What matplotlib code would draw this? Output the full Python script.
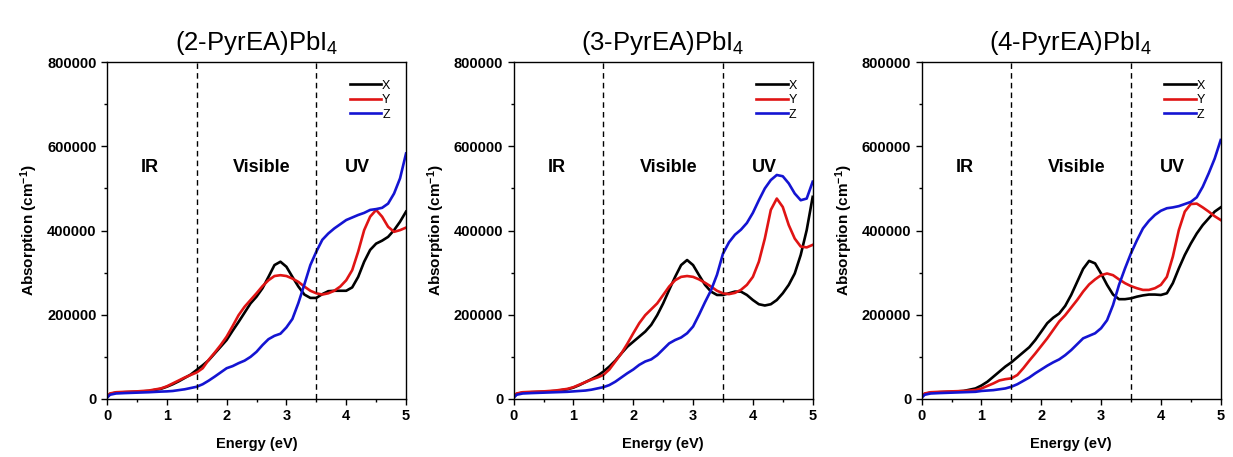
import matplotlib
matplotlib.use("Agg")
import matplotlib.pyplot as plt
from matplotlib.ticker import MultipleLocator

plt.rcParams['font.family'] = ['Liberation Sans', 'DejaVu Sans']
plt.rcParams['mathtext.fontset'] = 'custom'
plt.rcParams['mathtext.rm'] = 'Liberation Sans'
plt.rcParams['mathtext.bf'] = 'Liberation Sans:bold'
plt.rcParams['mathtext.default'] = 'regular'

# photon energy grid (eV) shared by all spectra
energy = [0, 0.05, 0.15, 0.3, 0.5, 0.7, 0.9, 1.0, 1.1, 1.2, 1.3, 1.4,
          1.5, 1.6, 1.7, 1.8, 1.9, 2.0, 2.1, 2.2, 2.3, 2.4, 2.5, 2.6,
          2.7, 2.8, 2.9, 3.0, 3.1, 3.2, 3.3, 3.4, 3.5, 3.6, 3.7, 3.8,
          3.9, 4.0, 4.1, 4.2, 4.3, 4.4, 4.5, 4.6, 4.7, 4.8, 4.9, 5.0]

titles = ['(2-PyrEA)PbI$_4$', '(3-PyrEA)PbI$_4$', '(4-PyrEA)PbI$_4$']

# absorption coefficients (cm^-1), X / Y / Z polarisation
pyr2_x = [5000, 12000, 15000, 16000, 17000, 19000, 24000, 29000, 35000, 42000, 50000, 58000,
          69000, 80000, 92000, 108000, 124000, 140000, 162000, 183000, 205000, 227000, 243000, 263000,
          290000, 318000, 326000, 314000, 290000, 267000, 248000, 240000, 240000, 249000, 256000, 257000,
          257000, 257000, 265000, 290000, 326000, 354000, 369000, 376000, 385000, 401000, 421000, 445000]
pyr2_y = [5000, 13000, 16000, 17000, 18000, 20000, 25000, 30000, 37000, 44000, 51000, 57000,
          63000, 73000, 93000, 110000, 128000, 148000, 173000, 199000, 219000, 235000, 251000, 268000,
          282000, 292000, 294000, 292000, 286000, 278000, 267000, 257000, 251000, 248000, 251000, 257000,
          267000, 282000, 306000, 350000, 401000, 433000, 449000, 433000, 409000, 397000, 401000, 407000]
pyr2_z = [3000, 10000, 13000, 14000, 15000, 16000, 17500, 18000, 19000, 21000, 23000, 26000,
          29000, 35000, 43500, 53000, 63000, 73000, 78000, 85000, 91000, 100000, 112000, 128000,
          142000, 150000, 155000, 170000, 190000, 228000, 272000, 318000, 350000, 378000, 393000, 405000,
          415000, 425000, 431000, 437000, 442000, 449000, 451000, 454000, 464000, 488000, 524000, 583000]

pyr3_x = [5000, 12000, 15000, 16000, 17000, 19000, 23000, 27000, 33000, 40000, 47000, 55000,
          65000, 77000, 91000, 108000, 124000, 136000, 148000, 160000, 176000, 199000, 227000, 259000,
          290000, 318000, 330000, 318000, 294000, 271000, 255000, 247000, 247000, 251000, 255000, 255000,
          247000, 235000, 225000, 222000, 225000, 235000, 251000, 271000, 298000, 342000, 401000, 480000]
pyr3_y = [5000, 13000, 16000, 17000, 18000, 20000, 24000, 28000, 34000, 40000, 46000, 51000,
          57000, 70000, 89000, 108000, 131000, 156000, 180000, 199000, 213000, 227000, 247000, 267000,
          282000, 290000, 292000, 290000, 284000, 276000, 267000, 257000, 251000, 249000, 252000, 259000,
          271000, 290000, 326000, 381000, 449000, 476000, 456000, 413000, 381000, 362000, 360000, 366000]
pyr3_z = [3000, 10000, 13000, 14000, 15000, 16000, 17000, 18000, 19000, 20000, 22000, 25000,
          28000, 33000, 41000, 51000, 61000, 70000, 81000, 89000, 94000, 104000, 118000, 132000,
          140000, 146000, 156000, 172000, 200000, 230000, 258000, 295000, 345000, 372000, 390000, 402000,
          418000, 442000, 472000, 500000, 520000, 532000, 529000, 512000, 488000, 472000, 476000, 516000]

pyr4_x = [5000, 12000, 15000, 16000, 17000, 19000, 25000, 32000, 41000, 53000, 65000, 77000,
          87000, 99000, 111000, 123000, 140000, 160000, 180000, 193000, 203000, 221000, 247000, 278000,
          309000, 328000, 322000, 298000, 271000, 248000, 237000, 237000, 239000, 243000, 246000, 248000,
          248000, 247000, 251000, 275000, 310000, 342000, 369000, 393000, 413000, 429000, 445000, 455000]
pyr4_y = [5000, 13000, 16000, 17000, 18000, 19000, 21000, 25000, 31000, 37000, 44000, 47000,
          49000, 57000, 73000, 91000, 108000, 126000, 144000, 164000, 184000, 199000, 217000, 235000,
          255000, 272000, 284000, 294000, 298000, 294000, 284000, 275000, 268000, 263000, 259000, 259000,
          263000, 271000, 290000, 338000, 401000, 445000, 463000, 464000, 455000, 445000, 434000, 425000]
pyr4_z = [3000, 10000, 13000, 14000, 15000, 16000, 17000, 19000, 20000, 21000, 23000, 25000,
          29000, 35000, 43000, 51000, 61000, 70000, 79000, 87000, 94000, 104000, 116000, 130000,
          144000, 150000, 156000, 168000, 187000, 223000, 271000, 310000, 346000, 377000, 405000, 423000,
          437000, 447000, 453000, 455000, 458000, 463000, 468000, 479000, 504000, 536000, 571000, 615000]

series = [(pyr2_x, pyr2_y, pyr2_z), (pyr3_x, pyr3_y, pyr3_z), (pyr4_x, pyr4_y, pyr4_z)]
colors = ['#000000', '#e01414', '#1414d2']
labels = ['X', 'Y', 'Z']
regions = [(0.72, 'IR'), (2.59, 'Visible'), (4.19, 'UV')]

fig = plt.figure(figsize=(12.33, 4.57), dpi=100)
lefts = [0.0868, 0.4166, 0.7475]

for left, title, data in zip(lefts, titles, series):
    ax = fig.add_axes([left, 0.127, 0.2425, 0.737])
    for vals, c, lab in zip(data, colors, labels):
        ax.plot(energy, vals, color=c, lw=1.9, label=lab)
    for xv in (1.5, 3.5):
        ax.axvline(xv, color='black', lw=1.0, ls=(0, (4, 3)))
    for xv, txt in regions:
        ax.text(xv, 550000, txt, ha='center', va='center', fontsize=13, fontweight='bold')

    ax.set_xlim(0, 5)
    ax.set_ylim(0, 800000)
    ax.xaxis.set_major_locator(MultipleLocator(1))
    ax.xaxis.set_minor_locator(MultipleLocator(0.5))
    ax.yaxis.set_major_locator(MultipleLocator(200000))
    ax.yaxis.set_minor_locator(MultipleLocator(100000))
    ax.tick_params(which='both', direction='out', top=False, right=False)
    ax.tick_params(which='major', length=4, width=1)
    ax.tick_params(which='minor', length=2.5, width=1)
    for lbl in ax.get_xticklabels() + ax.get_yticklabels():
        lbl.set_fontweight('bold')
        lbl.set_fontsize(10.5)
    for sp in ax.spines.values():
        sp.set_linewidth(1.0)

    ax.set_xlabel('Energy (eV)', fontsize=10.5, fontweight='bold', labelpad=10)
    ax.set_ylabel(r'Absorption (cm$^{\mathbf{-1}}$)', fontsize=11, fontweight='bold', labelpad=5)
    ax.set_title(title, fontsize=18.5, pad=9)

    ax.legend(loc='upper right', frameon=False, fontsize=9, handlelength=2.5,
              handletextpad=0.1, labelspacing=0.2, borderaxespad=0.6,
              bbox_to_anchor=(0.99, 0.985))

fig.savefig('out.png', dpi=100)
